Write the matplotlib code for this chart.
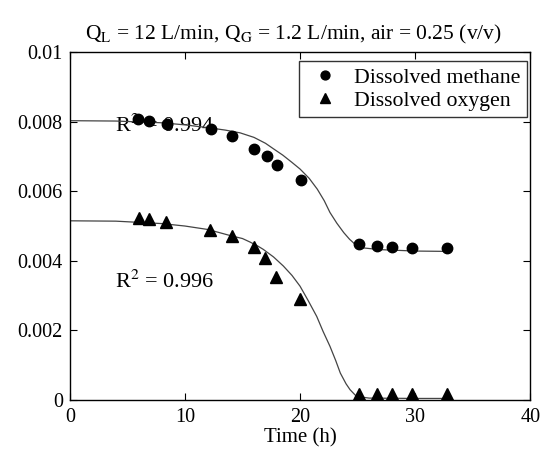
import matplotlib
matplotlib.use("Agg")
import matplotlib.pyplot as plt

plt.rcParams['font.family'] = ['Liberation Serif', 'DejaVu Serif']
plt.rcParams['mathtext.fontset'] = 'stix'

# measured points
ch4_t = [5.94, 6.9, 8.46, 12.23, 14.1, 16.0, 17.1, 18.0, 20.06, 25.1, 26.7, 28.0, 29.7, 32.75]
ch4_c = [0.00808, 0.00801, 0.00794, 0.00779, 0.00760, 0.00722, 0.00702, 0.00675, 0.00631,
         0.00447, 0.00443, 0.00441, 0.00437, 0.00436]
o2_t = [6.0, 6.9, 8.4, 12.17, 14.1, 16.0, 17.0, 17.95, 20.0, 25.1, 26.7, 28.0, 29.7, 32.75]
o2_c = [0.00524, 0.00520, 0.00512, 0.00489, 0.00471, 0.00440, 0.00407, 0.00354, 0.00289,
        0.00016, 0.00016, 0.00016, 0.00016, 0.00016]

# fitted curves
ch4_fit_t = [0, 4, 8, 10, 12, 13.5, 14.8, 16, 17, 17.7, 18.5, 19.3, 20, 20.8, 21.5, 22.1,
             22.6, 23.2, 23.8, 24.3, 24.8, 25.5, 27, 30, 32.8]
ch4_fit_c = [0.00803, 0.00802, 0.00797, 0.00791, 0.00783, 0.00776, 0.00768, 0.00755, 0.00738,
             0.00722, 0.00704, 0.00683, 0.00664, 0.00637, 0.00606, 0.00573, 0.00539, 0.00508,
             0.00481, 0.00462, 0.00447, 0.00437, 0.00432, 0.00428, 0.00427]
o2_fit_t = [0, 4, 8, 10, 12, 14, 15, 15.65, 16.3, 16.8, 17.7, 18.55, 19.3, 20, 20.7, 21.45,
            22.0, 22.6, 23.1, 23.5, 24.0, 24.35, 24.9, 26, 30, 32.8]
o2_fit_c = [0.00515, 0.00514, 0.00507, 0.00500, 0.00490, 0.00472, 0.00464, 0.00454, 0.00443,
            0.00433, 0.00411, 0.00385, 0.00358, 0.00327, 0.00286, 0.00240, 0.00197, 0.00154,
            0.00113, 0.00077, 0.00046, 0.00029, 0.00010, 0.00005, 0.00004, 0.00004]

yticks = [0, 0.002, 0.004, 0.006, 0.008, 0.01]
ylabels = ['0', '0.002', '0.004', '0.006', '0.008', '0.01']
xticks = [0, 10, 20, 30, 40]

fig = plt.figure(figsize=(5.45, 4.58), dpi=100)
ax = fig.add_axes([0.128, 0.127, 0.845, 0.759])

ax.plot(ch4_fit_t, ch4_fit_c, color='#444444', lw=0.9)
ax.plot(o2_fit_t, o2_fit_c, color='#444444', lw=0.9)
ax.plot(ch4_t, ch4_c, 'o', color='black', ms=7.5, label='Dissolved methane', zorder=3)
ax.plot(o2_t, o2_c, '^', color='black', ms=8, label='Dissolved oxygen', zorder=3)

# annotations sit underneath the markers
ax.text(3.9, 0.0079, r'R$^2$ = 0.994', fontsize=16, va='center', zorder=1.5)
ax.text(3.9, 0.00341, r'R$^2$ = 0.996', fontsize=16, va='center', zorder=1.5)

ax.set_xlim(0, 40)
ax.set_ylim(0, 0.01)
ax.set_xticks(xticks)
ax.set_yticks(yticks)
ax.set_yticklabels(ylabels)
ax.tick_params(direction='in', top=True, right=True, labelsize=14.5, length=5)
ax.tick_params(axis='x', pad=6)
ax.tick_params(axis='y', pad=5)
for s in ax.spines.values():
    s.set_linewidth(1.0)

ax.set_xlabel('Time (h)', fontsize=15, labelpad=1)
ax.set_title(r'Q$_\mathrm{L}$ = 12 L/min, Q$_\mathrm{G}$ = 1.2 L/min, air = 0.25 (v/v)',
             fontsize=15.5, pad=9, x=0.485)

leg = ax.legend(loc='upper right', bbox_to_anchor=(0.9935, 0.974), borderaxespad=0,
                fontsize=15.7, frameon=True, fancybox=False, edgecolor='black',
                borderpad=0.3, handletextpad=0.45, labelspacing=0.12,
                handlelength=1.8, markerscale=0.85)
leg.get_frame().set_linewidth(1.0)

fig.savefig('out.png', dpi=100)
